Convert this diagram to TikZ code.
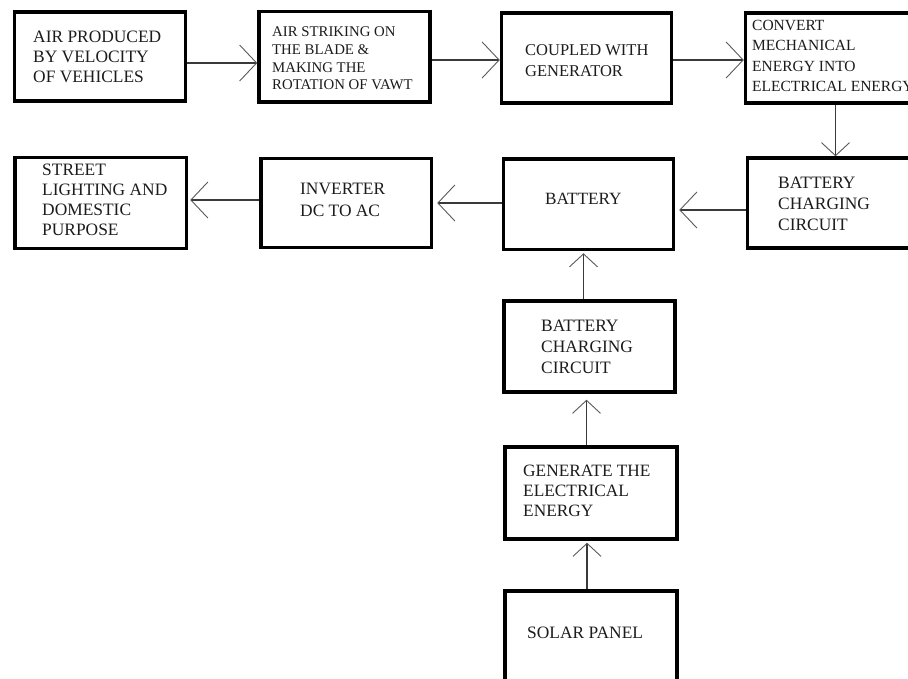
\documentclass[tikz,border=0pt]{standalone}
\usepackage{fontspec}
\setmainfont{Liberation Serif}
\usetikzlibrary{arrows.meta}
\definecolor{linec}{HTML}{3A3A3A}
\definecolor{barbc}{HTML}{5A5A5A}
\definecolor{txtc}{HTML}{1C1C1C}
\tikzset{
  box/.style={draw=black, line width=3.5pt, inner sep=0pt, fill=none},
  txt/.style={anchor=north west, inner sep=0pt, align=left, text=txtc},
  hconn/.style={draw=linec, line width=1.1pt, -{Straight Barb[length=17pt,width=36pt,line width=0.9pt,color=barbc]}},
  vconn/.style={draw=linec, line width=1.1pt, -{Straight Barb[length=13pt,width=28pt,line width=0.9pt,color=barbc]}}
}
\begin{document}
\begin{tikzpicture}[x=1pt,y=-1pt]
\useasboundingbox (0,0) rectangle (908,679);
\clip (0,0) rectangle (908,679);
\fill[white] (0,0) rectangle (908,679);

% boxes
\node[box, minimum width=171pt, minimum height=89pt]   (b1)   at (100,56.5) {};
\node[box, minimum width=171pt, minimum height=90.5pt] (b2)   at (344.5,56.75) {};
\node[box, minimum width=170pt, minimum height=90pt]   (b3)   at (586.5,58) {};
\node[box, minimum width=169.5pt, minimum height=90pt] (b4)   at (830.25,58) {};
\node[box, minimum width=169.5pt, minimum height=90pt] (bccr) at (832.25,203) {};
\node[box, minimum width=170pt, minimum height=90.5pt] (bat)  at (588.5,204.25) {};
\node[box, minimum width=170.5pt, minimum height=89pt] (inv)  at (346.25,203) {};
\node[box, minimum width=171.5pt, minimum height=91pt] (str)  at (100.75,203) {};
\node[box, minimum width=171pt, minimum height=91pt]   (bccm) at (589.5,346.5) {};
\node[box, minimum width=172pt, minimum height=92pt]   (gen)  at (591,493) {};
\node[box, minimum width=172pt, minimum height=109pt]  (sol)  at (591,645.5) {};

% texts
\node[txt, font=\fontsize{17.4}{20}\selectfont] (t1) at (33,30.5)
  {AIR PRODUCED\\BY VELOCITY\\OF VEHICLES};
\node[txt, font=\fontsize{14.8}{17.8}\selectfont] (t2) at (272,26.5)
  {AIR STRIKING ON\\THE BLADE \&\\MAKING THE\\ROTATION OF VAWT};
\node[txt, font=\fontsize{16.5}{21}\selectfont] (t3) at (525,44)
  {COUPLED WITH\\GENERATOR};
\node[txt, font=\fontsize{15.5}{20.5}\selectfont] (t4) at (752,20)
  {CONVERT\\MECHANICAL\\ENERGY INTO\\ELECTRICAL ENERGY};
\node[txt, font=\fontsize{17.4}{21}\selectfont] (t5) at (778,177)
  {BATTERY\\CHARGING\\CIRCUIT};
\node[txt, font=\fontsize{17.2}{21}\selectfont] (t6) at (545,193)
  {BATTERY};
\node[txt, font=\fontsize{17.4}{22}\selectfont] (t7) at (300,183)
  {INVERTER\\DC TO AC};
\node[txt, font=\fontsize{17.4}{20}\selectfont] (t8) at (42,164)
  {STREET\\LIGHTING AND\\DOMESTIC\\PURPOSE};
\node[txt, font=\fontsize{17.4}{21}\selectfont] (t9) at (541,320)
  {BATTERY\\CHARGING\\CIRCUIT};
\node[txt, font=\fontsize{17.3}{20}\selectfont] (t10) at (523,465)
  {GENERATE THE\\ELECTRICAL\\ENERGY};
\node[txt, font=\fontsize{17.4}{20}\selectfont] (t11) at (527,627)
  {SOLAR PANEL};

% connectors
\draw[hconn] (b1.east |- 0,63) -- (b2.west |- 0,63);
\draw[hconn] (b2.east |- 0,60) -- (b3.west |- 0,60);
\draw[hconn] (b3.east |- 0,60) -- (b4.west |- 0,60);
\draw[vconn] (b4.south -| 835.5,0) -- (bccr.north -| 835.5,0);
\draw[hconn, shorten >=4pt] (bccr.west |- 0,210) -- (bat.east |- 0,210);
\draw[hconn, shorten >=4pt] (bat.west |- 0,203) -- (inv.east |- 0,203);
\draw[hconn, shorten >=2pt] (inv.west |- 0,200) -- (str.east |- 0,200);
\draw[vconn, shorten >=2pt] (bccm.north -| 583.5,0) -- (bat.south -| 583.5,0);
\draw[vconn, shorten >=6pt] (gen.north -| 586.5,0) -- (bccm.south -| 586.5,0);
\draw[vconn, shorten >=2pt] (sol.north -| 587,0) -- (gen.south -| 587,0);
\end{tikzpicture}
\end{document}
